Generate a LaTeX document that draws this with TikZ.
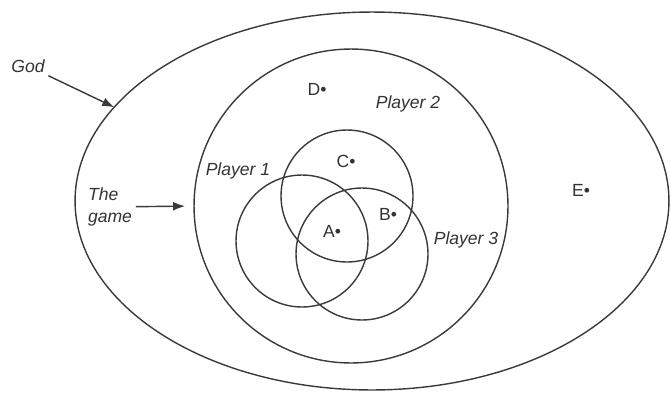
\documentclass[tikz,border=0pt]{standalone}
\usepackage{fontspec}
\setmainfont{Liberation Sans}
\usetikzlibrary{arrows.meta,shapes.geometric}
\definecolor{LineGray}{HTML}{3A3A3A}
\definecolor{TextGray}{HTML}{333333}
\tikzset{
  conjunto/.style = {draw=LineGray, line width=0.8pt, inner sep=0pt, outer sep=0pt},
  jugador/.style  = {conjunto, circle, minimum size=2.64cm},
  lbl/.style      = {font=\fontsize{10}{13}\selectfont\itshape, text=TextGray, inner sep=2pt},
  punto/.style    = {font=\fontsize{10}{12}\selectfont, text=TextGray, inner sep=1pt},
  flecha/.style   = {-{Latex[length=2.4mm,width=1.8mm]}, draw=LineGray, line width=0.8pt},
}

\begin{document}
\begin{tikzpicture}[x=0.02cm, y=-0.02cm]
  \useasboundingbox (0,0) rectangle (671,392);
  % sets
  \node[conjunto, ellipse, minimum width=11.88cm, minimum height=7.56cm] (god) at (372,201) {};
  \node[conjunto, circle, minimum size=6.28cm] (game) at (351,206) {};
  \node[jugador] (p2) at (347,196) {};
  \node[jugador] (p1) at (302,241) {};
  \node[jugador] (p3) at (362,254) {};
  % labels
  \node[lbl] (godlbl) at (28,66) {God};
  \node[lbl, align=left] (gamelbl) at (110,207) {The\\game};
  \node[lbl] (p1lbl) at (238,171) {Player 1};
  \node[lbl] (p2lbl) at (408,104) {Player 2};
  \node[lbl] (p3lbl) at (466,240) {Player 3};
  \node[punto] (d) at (317,89)  {D•};
  \node[punto] (c) at (346,161) {C•};
  \node[punto] (b) at (388,214) {B•};
  \node[punto] (a) at (332,231) {A•};
  \node[punto] (e) at (581,190) {E•};
  % arrows
  \draw[flecha] (godlbl) -- (god.160);
  \draw[flecha, shorten >=0.18cm] (gamelbl) -- (game.west);
\end{tikzpicture}
\end{document}
